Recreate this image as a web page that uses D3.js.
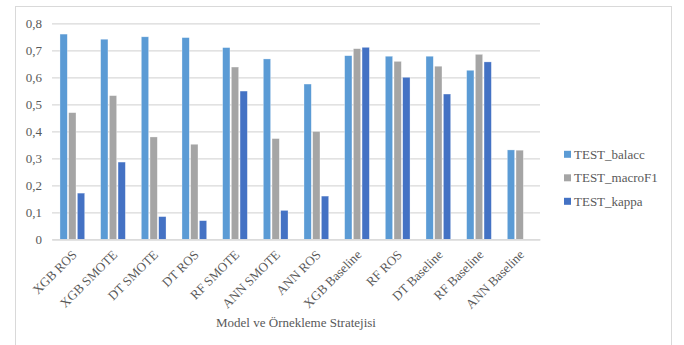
<!DOCTYPE html>
<html>
<head>
<meta charset="utf-8">
<script src="https://cdn.jsdelivr.net/npm/d3@7"></script>
<style>
  html, body { margin: 0; padding: 0; background: #fff; }
  svg { display: block; }
</style>
</head>
<body>
<svg id="chart" width="684" height="345"></svg>
<script>
// Categories: model + sampling strategy
const categories = [
  "XGB ROS", "XGB SMOTE", "DT SMOTE", "DT ROS", "RF SMOTE", "ANN SMOTE",
  "ANN ROS", "XGB Baseline", "RF ROS", "DT Baseline", "RF Baseline", "ANN Baseline"
];

// Test metrics per category
const testBalacc  = [0.760, 0.741, 0.750, 0.747, 0.710, 0.668, 0.575, 0.680, 0.678, 0.678, 0.626, 0.331];
const testMacroF1 = [0.469, 0.532, 0.379, 0.352, 0.638, 0.373, 0.399, 0.706, 0.659, 0.641, 0.685, 0.330];
const testKappa   = [0.171, 0.286, 0.084, 0.069, 0.549, 0.107, 0.160, 0.711, 0.600, 0.538, 0.657, 0.000];

const seriesNames = ["TEST_balacc", "TEST_macroF1", "TEST_kappa"];
const seriesValues = [testBalacc, testMacroF1, testKappa];
const seriesColors = ["#5B9BD5", "#A5A5A5", "#4472C4"];

const yTicks = [0, 0.1, 0.2, 0.3, 0.4, 0.5, 0.6, 0.7, 0.8];
const xTitle = "Model ve Örnekleme Stratejisi";

const svg = d3.select("#chart");
const font = "'Liberation Serif', 'Times New Roman', serif";
const textColor = "#595959";
const gridColor = "#D9D9D9";

// Outer frame
svg.append("rect")
  .attr("x", 15.5).attr("y", 6.5)
  .attr("width", 656).attr("height", 345)
  .attr("fill", "#fff")
  .attr("stroke", "#D9D9D9").attr("stroke-width", 1);

const plot = { left: 52, right: 540, top: 23.3, bottom: 239.3 };

const x = d3.scaleBand().domain(categories).range([plot.left, plot.right]).padding(0);
const y = d3.scaleLinear().domain([0, 0.8]).range([plot.bottom, plot.top]);

// Bars within a category
const groupHalf = 12.35;
const xInner = d3.scaleBand().domain(seriesNames)
  .range([x.bandwidth() / 2 - groupHalf, x.bandwidth() / 2 + groupHalf])
  .paddingInner(0.16).paddingOuter(0);

// Horizontal gridlines and y labels
const yAxis = d3.axisLeft(y).tickValues(yTicks)
  .tickSize(-(plot.right - plot.left))
  .tickPadding(10)
  .tickFormat(d => d3.format(".1f")(d).replace(".", ",").replace(/^0,0$/, "0"));

const gy = svg.append("g")
  .attr("transform", `translate(${plot.left},0)`)
  .call(yAxis);
gy.select(".domain").remove();
gy.selectAll(".tick line").attr("stroke", gridColor).attr("stroke-width", 1.2);
gy.selectAll(".tick text")
  .attr("fill", textColor)
  .style("font-family", font)
  .style("font-size", "13px");

// Bars
const rows = categories.map((c, i) => ({ cat: c, vals: seriesNames.map((s, k) => ({ s, v: seriesValues[k][i], color: seriesColors[k] })) }));

const groups = svg.append("g").selectAll("g")
  .data(rows).join("g")
  .attr("transform", d => `translate(${x(d.cat)},0)`);

groups.selectAll("rect")
  .data(d => d.vals).join("rect")
  .attr("x", d => xInner(d.s))
  .attr("width", xInner.bandwidth())
  .attr("y", d => y(d.v))
  .attr("height", d => y(0) - y(d.v))
  .attr("fill", d => d.color)
  .attr("stroke", "#fff").attr("stroke-opacity", 0.5).attr("stroke-width", 0.6);

// Category axis with rotated labels
const xAxis = d3.axisBottom(x).tickSize(0).tickPadding(0);
const gx = svg.append("g")
  .attr("transform", `translate(0,${plot.bottom})`)
  .call(xAxis);
gx.select(".domain").attr("stroke", gridColor).attr("stroke-width", 1.2);
gx.selectAll(".tick text")
  .attr("fill", textColor)
  .style("font-family", font)
  .style("font-size", "13px")
  .attr("text-anchor", "end")
  .attr("dy", "0.35em")
  .attr("y", 0)
  .attr("transform", "translate(2,13) rotate(-45)");

// Axis title
svg.append("text")
  .attr("x", (plot.left + plot.right) / 2)
  .attr("y", 327)
  .attr("text-anchor", "middle")
  .attr("fill", textColor)
  .style("font-family", font)
  .style("font-size", "13px")
  .text(xTitle);

// Legend
const legend = svg.append("g").attr("transform", "translate(564,154.3)");
const li = legend.selectAll("g").data(seriesNames).join("g")
  .attr("transform", (d, i) => `translate(0,${i * 23.5})`);
li.append("rect")
  .attr("x", 0).attr("y", -3.5).attr("width", 7).attr("height", 7)
  .attr("fill", (d, i) => seriesColors[i]);
li.append("text")
  .attr("x", 10).attr("y", 0).attr("dy", "0.35em")
  .attr("fill", textColor)
  .style("font-family", font)
  .style("font-size", "13px")
  .text(d => d);
</script>
</body>
</html>
